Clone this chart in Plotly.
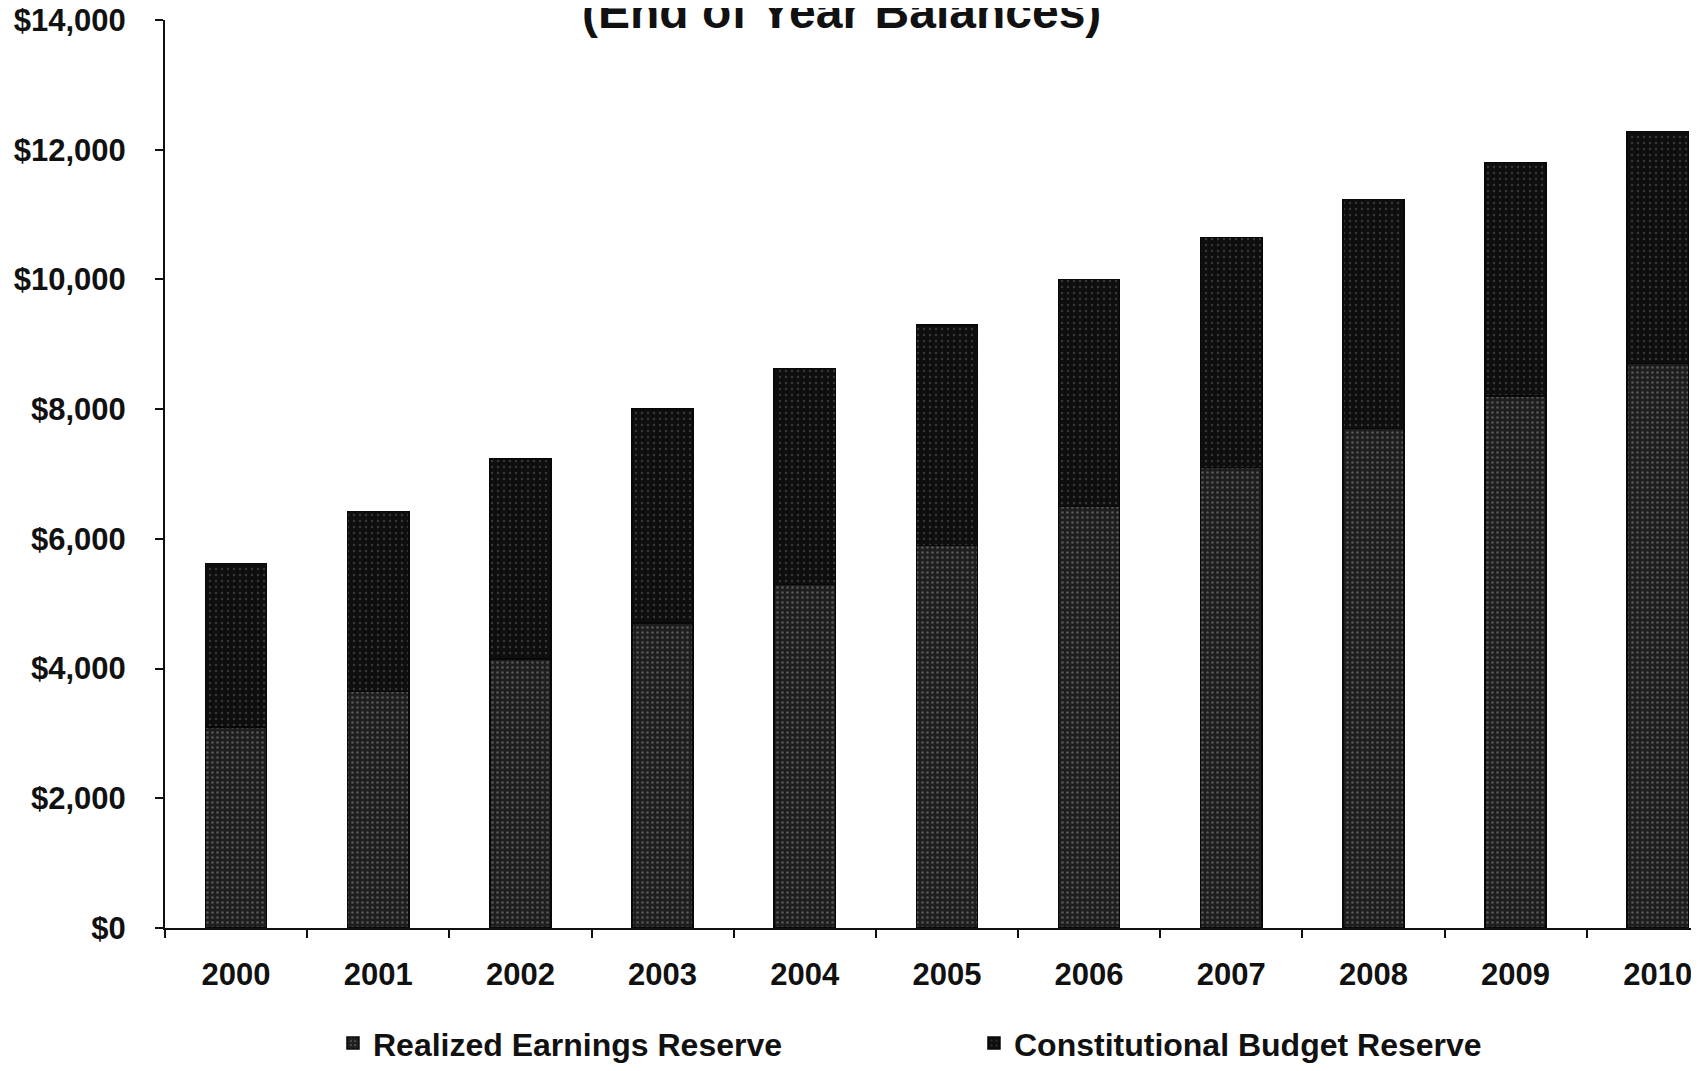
import plotly.graph_objects as go

years = ["2000", "2001", "2002", "2003", "2004", "2005", "2006", "2007", "2008", "2009", "2010"]
realized_earnings = [3100, 3650, 4150, 4700, 5300, 5900, 6500, 7100, 7700, 8200, 8700]
constitutional_budget = [2520, 2770, 3080, 3300, 3330, 3400, 3500, 3550, 3530, 3600, 3580]
y_ticks = [0, 2000, 4000, 6000, 8000, 10000, 12000, 14000]
y_tick_labels = ["$0", "$2,000", "$4,000", "$6,000", "$8,000", "$10,000", "$12,000", "$14,000"]

FONT = "Liberation Sans, Arial, sans-serif"

fig = go.Figure()
fig.add_trace(go.Bar(
    x=years, y=realized_earnings, name="<b>Realized Earnings Reserve</b>",
    marker=dict(color="#1e1e1e", line=dict(color="#080808", width=1.5),
                pattern=dict(shape=".", fgcolor="#8c8c8c", bgcolor="#1e1e1e", size=5, solidity=0.22)),
))
fig.add_trace(go.Bar(
    x=years, y=constitutional_budget, name="<b>Constitutional Budget Reserve</b>",
    marker=dict(color="#0e0e0e", line=dict(color="#080808", width=1.5),
                pattern=dict(shape=".", fgcolor="#5e5e5e", bgcolor="#0e0e0e", size=6, solidity=0.14)),
))

fig.add_annotation(
    text="<b>(End of Year Balances)</b>", xref="paper", yref="paper",
    x=0.4407, y=1.0099, xanchor="center", yanchor="middle", showarrow=False,
    font=dict(family=FONT, size=48, color="#111111"),
)

fig.update_layout(
    barmode="stack",
    bargap=0.57,
    width=1691, height=1063,
    margin=dict(l=157, r=0, t=12, b=143, autoexpand=False),
    paper_bgcolor="white", plot_bgcolor="white",
    font=dict(family=FONT, size=31, color="#111111"),
    showlegend=True,
    legend=dict(orientation="h", x=0.1095, xanchor="left", y=-0.127, yanchor="middle",
                entrywidth=596, entrywidthmode="pixels", traceorder="normal",
                font=dict(family=FONT, size=32, color="#111111"), bgcolor="rgba(0,0,0,0)"),
    xaxis=dict(type="category", range=[-0.5, 10.29], showline=True, linecolor="#111111",
               linewidth=2, ticks="outside", ticklen=8, tickcolor="#111111", tickwidth=2,
               tickson="boundaries", showgrid=False, tickfont=dict(family=FONT, size=31),
               ticklabelstandoff=18, ticklabeloverflow="allow", automargin=False,
               tickprefix="<b>", ticksuffix="</b>"),
    yaxis=dict(range=[0, 14000], tickvals=y_ticks,
               ticktext=["<b>" + t + "</b>" for t in y_tick_labels],
               showline=True, linecolor="#111111", linewidth=2, ticks="outside",
               ticklen=8, tickcolor="#111111", tickwidth=2, showgrid=False, zeroline=False,
               ticklabelstandoff=23, ticklabeloverflow="allow", automargin=False,
               tickfont=dict(family=FONT, size=31)),
)

fig.write_html("out.html")
